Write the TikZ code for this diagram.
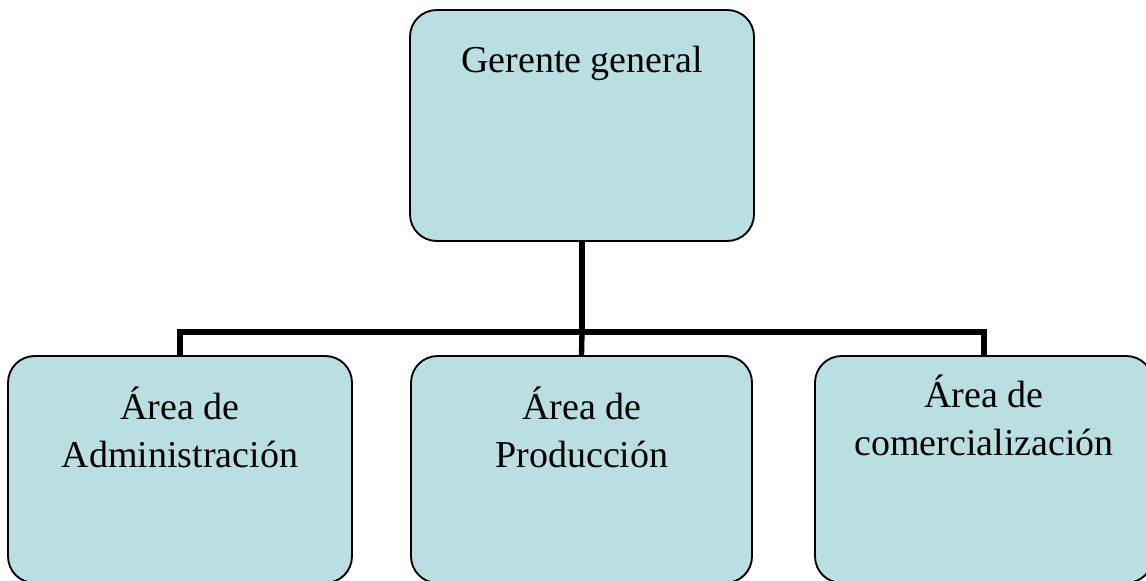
\documentclass[tikz,border=0pt]{standalone}
\usepackage{fontspec}
\setmainfont{Liberation Serif}
\usepackage{tikz}
\tikzset{every picture/.style={line width=0.75pt}}
\definecolor{boxblue}{RGB}{185,223,227}
\tikzset{
  orgbox/.style={draw=black, fill=boxblue, line width=1.4pt, rounded corners=20pt, inner sep=0pt, outer sep=0pt},
  orgtext/.style={font=\fontsize{28.5}{35.5}\selectfont, align=center, inner sep=0pt, anchor=base},
  orgline/.style={line width=4pt, line join=miter}
}

\begin{document}
\begin{tikzpicture}[x=0.75pt,y=0.75pt,yscale=-1,xscale=1]
%set diagram size to the page
\useasboundingbox (0,0) rectangle (1146,581);
\clip (0,0) rectangle (1146,581);

%Rounded Rect [Gerente general]
\draw (582,125.5) node [orgbox, minimum width=258pt, minimum height=173.25pt] (gg) {};
%Rounded Rect [Administracion]
\draw (180,469.5) node [orgbox, minimum width=258pt, minimum height=170.25pt] (adm) {};
%Rounded Rect [Produccion]
\draw (581.5,469.5) node [orgbox, minimum width=255.75pt, minimum height=170.25pt] (prod) {};
%Rounded Rect [Comercializacion]
\draw (984,469.5) node [orgbox, minimum width=253.5pt, minimum height=170.25pt] (com) {};

%Straight Lines
\coordinate (bar) at (582,332);
\draw [orgline] (gg.south) -- (bar);
\draw [orgline] (adm.north) |- (bar) -| (com.north);
\draw [orgline] (prod.north) -- (bar);

% Text Node
\draw (582,73) node [orgtext] (ggtxt) {Gerente general};
% Text Node
\draw (180,467) node [orgtext] (admtxt) {Área de\\Administración};
% Text Node
\draw (582,467) node [orgtext] (prodtxt) {Área de\\Producción};
% Text Node
\draw (984,455) node [orgtext] (comtxt) {Área de\\comercialización};

\end{tikzpicture}
\end{document}
